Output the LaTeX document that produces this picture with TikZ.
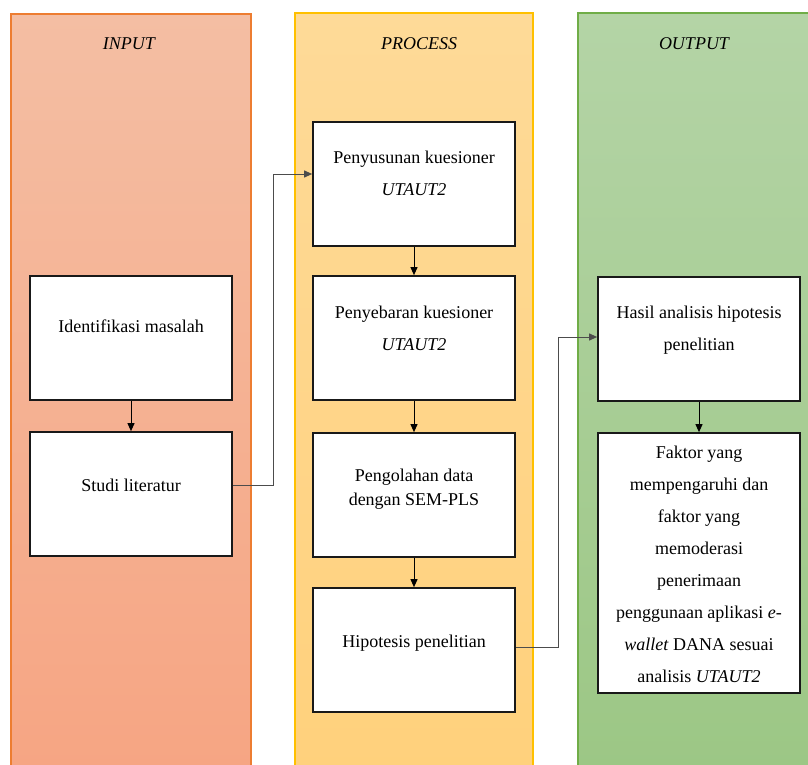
\documentclass[tikz,border=0pt]{standalone}
\usepackage{fontspec}
\setmainfont{Liberation Serif}
\usetikzlibrary{arrows.meta}
\definecolor{inTop}{RGB}{244,190,163}
\definecolor{inBot}{RGB}{246,165,131}
\definecolor{inLine}{RGB}{237,125,49}
\definecolor{prTop}{RGB}{254,218,152}
\definecolor{prBot}{RGB}{255,209,124}
\definecolor{prLine}{RGB}{255,192,0}
\definecolor{ouTop}{RGB}{180,212,166}
\definecolor{ouBot}{RGB}{156,199,133}
\definecolor{ouLine}{RGB}{112,173,71}
\tikzset{
  x=1pt, y=-1pt,
  stepbox/.style={draw=black!90, line width=1.7pt, fill=white, minimum width=202pt, minimum height=124pt, inner sep=0pt},
  lbl/.style={font=\fontsize{18}{24}\selectfont, align=center, text=black, inner sep=0pt},
  lblw/.style={font=\fontsize{18}{32}\selectfont, align=center, text=black, inner sep=0pt},
  head/.style={font=\fontsize{18}{24}\selectfont\itshape, text=black, inner sep=0pt},
  flow/.style={draw=black, line width=1pt, -{Triangle[length=8pt,width=7pt]}},
  elbow/.style={draw=black!70, line width=1pt, -{Triangle[length=8pt,width=7pt]}, fill=none}
}
\begin{document}
\begin{tikzpicture}
\useasboundingbox (0,0) rectangle (808,765);
% columns
\draw[draw=inLine, line width=1.2pt, top color=inTop, bottom color=inBot] (11,14) rectangle (251,770);
\draw[draw=prLine, line width=1.2pt, top color=prTop, bottom color=prBot] (295,13) rectangle (533,770);
\draw[draw=ouLine, line width=1.2pt, top color=ouTop, bottom color=ouBot] (578,13) rectangle (815,770);
\node[head] (hin) at (129,44) {INPUT};
\node[head] (hpr) at (419,44) {PROCESS};
\node[head] (hou) at (694,44) {OUTPUT};
% input boxes
\node[stepbox] (idm) at (131,338) {};
\node[lbl] at (131,326) {Identifikasi masalah};
\node[stepbox] (stl) at (131,494) {};
\node[lbl] at (131,485) {Studi literatur};
% process boxes
\node[stepbox] (pys) at (414,184) {};
\node[lblw] at (414,173) {Penyusunan kuesioner\\\textit{UTAUT2}};
\node[stepbox] (pyb) at (414,338) {};
\node[lblw] at (414,328) {Penyebaran kuesioner\\\textit{UTAUT2}};
\node[stepbox] (pgl) at (414,495) {};
\node[lbl] at (414,489) {Pengolahan data\\dengan SEM-PLS};
\node[stepbox] (hip) at (414,650) {};
\node[lbl] at (414,643) {Hipotesis penelitian};
% output boxes
\node[stepbox] (has) at (699,339) {};
\node[lblw] at (699,330) {Hasil analisis hipotesis\\penelitian};
\node[stepbox, minimum height=260pt] (fak) at (699,563) {};
\node[lblw] at (699,564) {Faktor yang\\mempengaruhi dan\\faktor yang\\memoderasi\\penerimaan\\penggunaan aplikasi \textit{e-}\\\textit{wallet} DANA sesuai\\analisis \textit{UTAUT2}};
% arrows
\draw[flow] (idm.south) -- (stl.north);
\draw[flow] (pys.south) -- (pyb.north);
\draw[flow] (pyb.south) -- (pgl.north);
\draw[flow] (pgl.south) -- (hip.north);
\draw[flow] (has.south) -- (fak.north);
\coordinate (s1) at (232,485);
\coordinate (e1) at (313,174);
\draw[elbow] (stl.east |- s1) -- (273,485) -- (273,174) -- (pys.west |- e1);
\coordinate (s2) at (515,647);
\coordinate (e2) at (598,337);
\draw[elbow] (hip.east |- s2) -- (558,647) -- (558,337) -- (has.west |- e2);
\end{tikzpicture}
\end{document}
